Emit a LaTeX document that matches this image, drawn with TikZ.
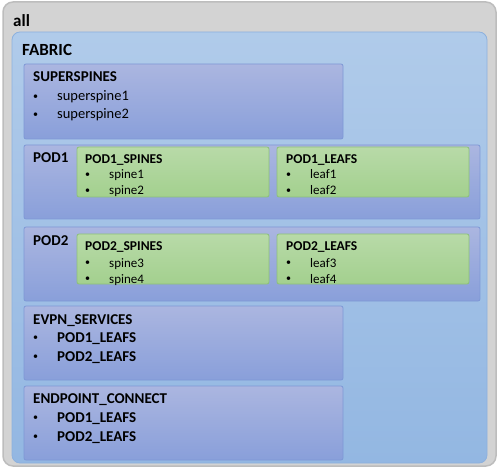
\documentclass[tikz,border=0pt]{standalone}
\usepackage{fontspec}
\setmainfont{Carlito}

\definecolor{allfill}{HTML}{D3D3D3}
\definecolor{allline}{HTML}{BDBDBD}
\definecolor{fabtop}{HTML}{B0CBEA}
\definecolor{fabbot}{HTML}{93B7E2}
\definecolor{fabline}{HTML}{8DB1DE}
\definecolor{grptop}{HTML}{ABB6E0}
\definecolor{grpbot}{HTML}{899FDA}
\definecolor{grpline}{HTML}{7E98D6}
\definecolor{hosttop}{HTML}{B8DAA8}
\definecolor{hostbot}{HTML}{A3D08E}
\definecolor{hostline}{HTML}{8DC07A}

\newcommand{\blt}{\raisebox{1.2pt}{\fontsize{10}{10}\selectfont •}}

\tikzset{
  box/.style={anchor=north west, inner sep=0pt, outer sep=0pt},
  allbox/.style={box, fill=allfill, draw=allline, line width=1.5pt, rounded corners=10pt},
  fabbox/.style={box, top color=fabtop, bottom color=fabbot, draw=fabline, line width=0.8pt, rounded corners=8pt},
  grpbox/.style={box, top color=grptop, bottom color=grpbot, draw=grpline, line width=0.8pt, rounded corners=2pt},
  hostbox/.style={box, top color=hosttop, bottom color=hostbot, draw=hostline, line width=0.8pt, rounded corners=2pt},
  txt/.style={anchor=base west, inner sep=0pt},
  bigttl/.style={txt, font=\fontsize{17}{20}\selectfont\bfseries},
  ttl/.style={txt, font=\fontsize{15}{18}\selectfont\bfseries},
  itm/.style={txt, font=\fontsize{14.5}{17}\selectfont},
  bitm/.style={txt, font=\fontsize{15}{18}\selectfont\bfseries},
  sttl/.style={txt, font=\fontsize{13.5}{16}\selectfont\bfseries},
  sitm/.style={txt, font=\fontsize{13}{16}\selectfont},
}

\begin{document}
\begin{tikzpicture}[x=1pt, y=-1pt]
\useasboundingbox (0,0) rectangle (500,470);

% outer groups
\node[allbox, minimum width=493pt, minimum height=464pt] (all) at (3,2) {};
\node[bigttl] (allT) at (13,27) {all};
\node[fabbox, minimum width=475pt, minimum height=431pt] (fabric) at (12,32) {};
\node[bigttl] (fabricT) at (22,56) {FABRIC};

% superspines
\node[grpbox, minimum width=319pt, minimum height=75pt] (super) at (24,64) {};
\node[ttl] (superT) at (33,82) {SUPERSPINES};
\node[txt] (ssB1) at (33,101) {\blt};
\node[itm] (ss1) at (57,101) {superspine1};
\node[txt] (ssB2) at (33,119) {\blt};
\node[itm] (ss2) at (57,119) {superspine2};

% pod1
\node[grpbox, minimum width=456pt, minimum height=74pt] (pod1) at (24,145) {};
\node[ttl] (pod1T) at (33,163) {POD1};
\node[hostbox, minimum width=192pt, minimum height=50pt] (p1s) at (77,147) {};
\node[sttl] (p1sT) at (85,164) {POD1\_SPINES};
\node[txt] (p1sB1) at (85,179) {\blt};
\node[sitm] (spine1) at (109,179) {spine1};
\node[txt] (p1sB2) at (85,195) {\blt};
\node[sitm] (spine2) at (109,195) {spine2};
\node[hostbox, minimum width=192pt, minimum height=50pt] (p1l) at (277,147) {};
\node[sttl] (p1lT) at (286,164) {POD1\_LEAFS};
\node[txt] (p1lB1) at (286,179) {\blt};
\node[sitm] (leaf1) at (310,179) {leaf1};
\node[txt] (p1lB2) at (286,195) {\blt};
\node[sitm] (leaf2) at (310,195) {leaf2};

% pod2
\node[grpbox, minimum width=456pt, minimum height=74pt] (pod2) at (24,227) {};
\node[ttl] (pod2T) at (33,245) {POD2};
\node[hostbox, minimum width=192pt, minimum height=50pt] (p2s) at (77,234) {};
\node[sttl] (p2sT) at (85,251) {POD2\_SPINES};
\node[txt] (p2sB1) at (85,267) {\blt};
\node[sitm] (spine3) at (109,267) {spine3};
\node[txt] (p2sB2) at (85,283) {\blt};
\node[sitm] (spine4) at (109,283) {spine4};
\node[hostbox, minimum width=192pt, minimum height=50pt] (p2l) at (277,234) {};
\node[sttl] (p2lT) at (286,251) {POD2\_LEAFS};
\node[txt] (p2lB1) at (286,267) {\blt};
\node[sitm] (leaf3) at (310,267) {leaf3};
\node[txt] (p2lB2) at (286,283) {\blt};
\node[sitm] (leaf4) at (310,283) {leaf4};

% evpn services
\node[grpbox, minimum width=319pt, minimum height=74pt] (evpn) at (24,306) {};
\node[ttl] (evpnT) at (33,324) {EVPN\_SERVICES};
\node[txt] (evB1) at (33,342) {\blt};
\node[bitm] (ev1) at (57,342) {POD1\_LEAFS};
\node[txt] (evB2) at (33,361) {\blt};
\node[bitm] (ev2) at (57,361) {POD2\_LEAFS};

% endpoint connect
\node[grpbox, minimum width=319pt, minimum height=74pt] (endp) at (24,386) {};
\node[ttl] (endpT) at (33,403) {ENDPOINT\_CONNECT};
\node[txt] (epB1) at (33,422) {\blt};
\node[bitm] (ep1) at (57,422) {POD1\_LEAFS};
\node[txt] (epB2) at (33,441) {\blt};
\node[bitm] (ep2) at (57,441) {POD2\_LEAFS};
\end{tikzpicture}
\end{document}
